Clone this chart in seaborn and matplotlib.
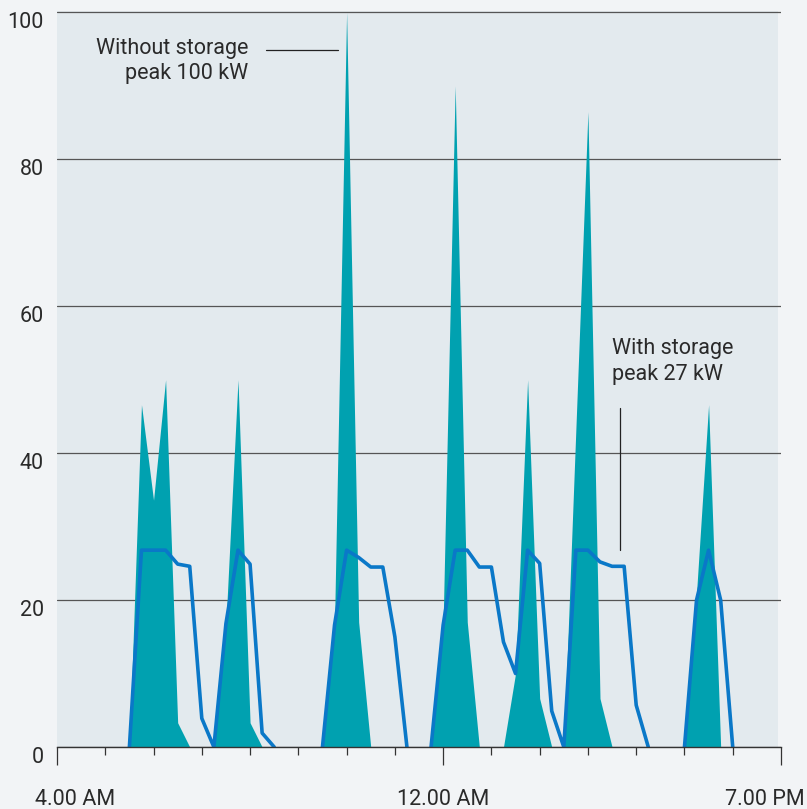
import pandas as pd
import matplotlib.pyplot as plt
import matplotlib.transforms as mtransforms
import seaborn as sns

# load without storage (kW), hour of day
without_hours = [5.5, 5.75, 6.0, 6.25, 6.5, 6.75,
                 7.25, 7.5, 7.75, 8.0, 8.25,
                 9.5, 9.75, 10.0, 10.25, 10.5,
                 11.75, 12.0, 12.25, 12.5, 12.75,
                 13.25, 13.5, 13.75, 14.0, 14.25,
                 14.5, 15.0, 15.25, 15.5,
                 17.0, 17.25, 17.5, 17.75]
without_kw = [0, 46.6, 33.6, 50, 3.3, 0,
              0, 16.8, 50, 3.3, 0,
              0, 17, 100, 17, 0,
              0, 17, 90, 17, 0,
              0, 10, 50, 6.6, 0,
              0, 86.5, 6.6, 0,
              0, 21, 46.6, 0]

# load with storage (kW), split into runs
with_hours = [5.5, 5.75, 6.0, 6.25, 6.5, 6.75, 7.0, 7.25, 7.5, 7.75, 8.0, 8.25, 8.5,
              9.5, 9.75, 10.0, 10.25, 10.5, 10.75, 11.0, 11.25,
              11.75, 12.0, 12.25, 12.5, 12.75, 13.0, 13.25, 13.5, 13.75, 14.0, 14.25,
              14.5, 14.75, 15.0, 15.25, 15.5, 15.75, 16.0, 16.25,
              17.0, 17.25, 17.5, 17.75, 18.0]
with_kw = [0, 26.8, 26.8, 26.8, 24.9, 24.6, 3.9, 0, 16.8, 26.8, 24.9, 1.9, 0,
           0, 16.6, 26.8, 25.8, 24.5, 24.5, 15, 0,
           0, 16.6, 26.8, 26.8, 24.5, 24.5, 14.3, 10, 26.8, 25.0, 4.9,
           0, 26.8, 26.8, 25.2, 24.6, 24.6, 5.7, 0,
           0, 20, 26.8, 20, 0]
with_run = [1] * 13 + [2] * 8 + [3] * 19 + [4] * 5

tick_hours = [4, 12, 19]
tick_labels = ['4.00 AM', '12.00 AM', '7.00 PM']

teal = '#00a1b0'
blue = '#0a78c8'
text_col = '#2a2a2a'
fs = 15.5

sns.set_style('white')
plt.rcParams['font.family'] = ['Roboto', 'DejaVu Sans']

fig = plt.figure(figsize=(8.07, 8.09), dpi=100, facecolor='#f2f4f6')
ax = fig.add_axes([57 / 807, 1 - 747 / 809, 724 / 807, 736 / 809])
ax.set_facecolor('#f2f4f6')
ax.axvspan(4, 18.93, color='#e3eaee', zorder=0, lw=0)

ax.fill_between(without_hours, 0, without_kw, color=teal, lw=0, zorder=2)

df = pd.DataFrame({'hour': with_hours, 'kw': with_kw, 'run': with_run})
sns.lineplot(data=df, x='hour', y='kw', units='run', estimator=None,
             color=blue, lw=2.6, ax=ax, zorder=4, sort=False)

ax.set_xlim(4, 19)
ax.set_ylim(0, 100.2)
ax.set_yticks([0, 20, 40, 60, 80, 100])
ax.yaxis.grid(True, color='#555555', lw=0.9)
for gl in ax.get_ygridlines():
    gl.set_zorder(3)
ax.set_xticks(tick_hours)
ax.set_xticklabels(tick_labels)
ax.set_xticks([h for h in range(5, 19) if h != 12], minor=True)
ax.tick_params(axis='x', which='major', length=13, width=0.9, color='#333333',
               direction='out', pad=17, labelsize=fs, labelcolor=text_col, bottom=True)
ax.tick_params(axis='x', which='minor', length=5.8, width=0.9, color='#333333',
               direction='out', bottom=True)
ax.tick_params(axis='y', length=0, pad=9.5, labelsize=fs, labelcolor=text_col)
for lab in ax.get_yticklabels():
    lab.set_va('top')
ax.set_xlabel('')
ax.set_ylabel('')

labs = ax.get_xticklabels()
labs[0].set_transform(labs[0].get_transform() + mtransforms.ScaledTranslation(18 / 100, 0, fig.dpi_scale_trans))
labs[-1].set_transform(labs[-1].get_transform() + mtransforms.ScaledTranslation(-16 / 100, 0, fig.dpi_scale_trans))

for side in ['top', 'right', 'left']:
    ax.spines[side].set_visible(False)
ax.spines['bottom'].set_color('#333333')
ax.spines['bottom'].set_linewidth(1.0)
ax.spines['bottom'].set_zorder(5)

# annotations
ax.text(7.97, 94.4, 'Without storage', ha='right', va='baseline', fontsize=fs, color=text_col)
ax.text(7.97, 91.0, 'peak 100 kW', ha='right', va='baseline', fontsize=fs, color=text_col)
ax.plot([8.32, 9.83], [94.9, 94.9], color='#222222', lw=0.9, zorder=5)
ax.text(15.49, 53.5, 'With storage', ha='left', va='baseline', fontsize=fs, color=text_col)
ax.text(15.49, 49.9, 'peak 27 kW', ha='left', va='baseline', fontsize=fs, color=text_col)
ax.plot([15.655, 15.655], [26.8, 46.2], color='#222222', lw=0.9, zorder=5)

fig.savefig('out.png', dpi=100, facecolor=fig.get_facecolor())
